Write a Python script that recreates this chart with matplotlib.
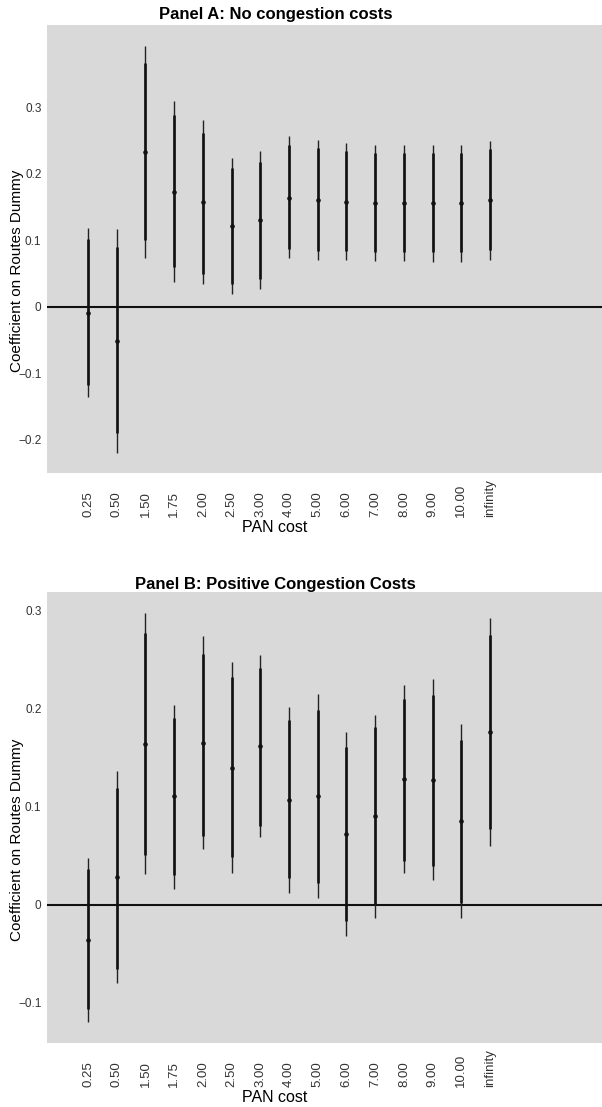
"""Coefficient plots for the routes dummy across PAN cost values."""
import matplotlib.pyplot as plt

plt.rcParams['font.family'] = ['Liberation Sans', 'DejaVu Sans']

pan_cost = ['0.25', '0.50', '1.50', '1.75', '2.00', '2.50', '3.00', '4.00',
            '5.00', '6.00', '7.00', '8.00', '9.00', '10.00', 'infinity']

# Panel A: no congestion costs
a_coef = [-0.009, -0.052, 0.233, 0.173, 0.157, 0.122, 0.130, 0.164,
          0.161, 0.158, 0.156, 0.156, 0.156, 0.156, 0.161]
a_lo95 = [-0.135, -0.220, 0.074, 0.038, 0.034, 0.020, 0.027, 0.073,
          0.071, 0.071, 0.069, 0.069, 0.068, 0.068, 0.071]
a_hi95 = [0.118, 0.117, 0.392, 0.309, 0.281, 0.224, 0.234, 0.257,
          0.251, 0.246, 0.244, 0.244, 0.244, 0.243, 0.250]
a_lo90 = [-0.117, -0.190, 0.100, 0.060, 0.050, 0.035, 0.042, 0.087,
          0.084, 0.084, 0.083, 0.083, 0.082, 0.082, 0.085]
a_hi90 = [0.102, 0.090, 0.367, 0.289, 0.262, 0.209, 0.218, 0.243,
          0.239, 0.234, 0.232, 0.232, 0.232, 0.231, 0.238]

# Panel B: positive congestion costs
b_coef = [-0.036, 0.028, 0.164, 0.111, 0.165, 0.139, 0.162, 0.107,
          0.111, 0.072, 0.091, 0.128, 0.127, 0.085, 0.176]
b_lo95 = [-0.120, -0.080, 0.031, 0.016, 0.057, 0.032, 0.069, 0.012,
          0.007, -0.032, -0.014, 0.032, 0.025, -0.014, 0.060]
b_hi95 = [0.048, 0.136, 0.298, 0.204, 0.274, 0.248, 0.255, 0.202,
          0.215, 0.176, 0.194, 0.224, 0.230, 0.184, 0.292]
b_lo90 = [-0.106, -0.066, 0.051, 0.030, 0.070, 0.049, 0.080, 0.027,
          0.022, -0.017, 0.001, 0.045, 0.040, 0.002, 0.077]
b_hi90 = [0.036, 0.119, 0.277, 0.190, 0.256, 0.232, 0.241, 0.188,
          0.199, 0.161, 0.181, 0.210, 0.214, 0.168, 0.275]

a_yticks = [-0.2, -0.1, 0, 0.1, 0.2, 0.3]
b_yticks = [-0.1, 0, 0.1, 0.2, 0.3]


def tick_text(v):
    if v == 0:
        return '0'
    return f'{v:.1f}'.replace('-', '\u2212')


def coef_panel(ax, coef, lo95, hi95, lo90, hi90, yticks, ylim):
    pos = list(range(1, len(pan_cost) + 1))
    ax.set_facecolor('#d9d9d9')
    ax.axhline(0, color='#111111', lw=1.5, zorder=1)
    ax.vlines(pos, lo95, hi95, color='#222222', lw=1.0, zorder=2)
    ax.vlines(pos, lo90, hi90, color='#111111', lw=1.9, zorder=3)
    ax.scatter(pos, coef, s=11, color='#111111', zorder=4, marker='o',
               linewidths=0)
    ax.set_xlim(-0.43, 18.9)
    ax.set_ylim(*ylim)
    ax.set_xticks(pos)
    ax.set_xticklabels(pan_cost, rotation=90, fontsize=9.5, color='#333333',
                       va='bottom')
    ax.set_yticks(yticks)
    ax.set_yticklabels([tick_text(v) for v in yticks], fontsize=8.5,
                       color='#333333')
    ax.tick_params(axis='x', length=0, pad=32)
    ax.tick_params(axis='y', length=0, pad=4)
    for s in ax.spines.values():
        s.set_visible(False)


fig = plt.figure(figsize=(6.02, 11.07), dpi=100)
W, H = 602.0, 1107.0

ax_a = fig.add_axes([47 / W, 1 - 473 / H, (W - 47) / W, 448 / H])
coef_panel(ax_a, a_coef, a_lo95, a_hi95, a_lo90, a_hi90, a_yticks,
           (-0.25, 0.424))

ax_b = fig.add_axes([47 / W, 1 - 1043 / H, (W - 47) / W, 451 / H])
coef_panel(ax_b, b_coef, b_lo95, b_hi95, b_lo90, b_hi90, b_yticks,
           (-0.141, 0.319))

fig.text(276 / W, 1 - 15 / H, 'Panel A: No congestion costs', ha='center',
         va='center', fontsize=12, fontweight='bold')
fig.text(275 / W, 1 - 585 / H, 'Panel B: Positive Congestion Costs',
         ha='center', va='center', fontsize=12, fontweight='bold')

for yc in (271, 840):
    fig.text(17 / W, 1 - yc / H, 'Coefficient on Routes Dummy', rotation=90,
             ha='center', va='center', fontsize=11)
for yc in (528, 1098):
    fig.text(275 / W, 1 - yc / H, 'PAN cost', ha='center', va='center',
             fontsize=11.5)

fig.savefig('out.png', dpi=100)
